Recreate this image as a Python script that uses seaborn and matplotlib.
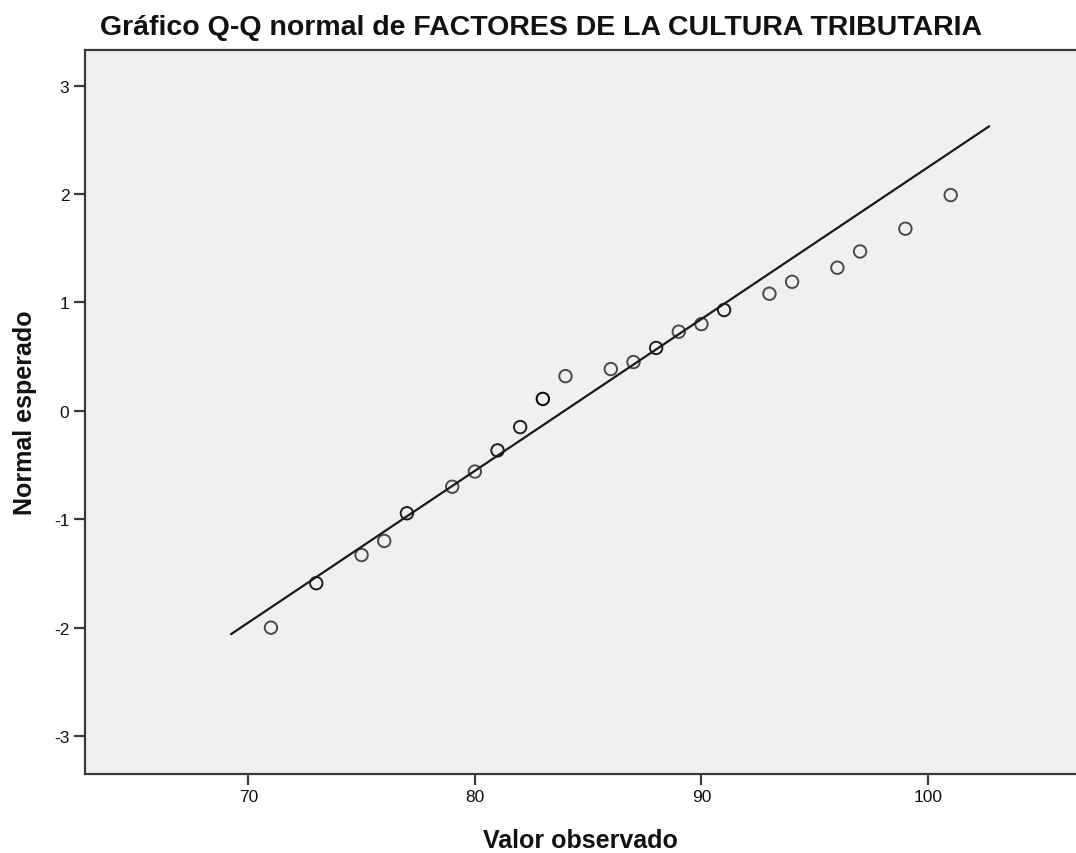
import matplotlib
matplotlib.use("Agg")
import matplotlib.pyplot as plt
import seaborn as sns
import pandas as pd

observed = [71, 73, 75, 76, 77, 79, 80, 81, 82, 83, 84, 86, 87, 88, 89, 90, 91,
            93, 94, 96, 97, 99, 101]
expected = [-2.00, -1.59, -1.33, -1.20, -0.945, -0.70, -0.56, -0.365, -0.15, 0.11,
            0.32, 0.385, 0.45, 0.58, 0.73, 0.80, 0.93, 1.08, 1.19, 1.32, 1.47,
            1.68, 1.99]
# number of cases sharing each value (tied points overplot darker)
counts = [1, 2, 1, 1, 2, 1, 1, 2, 2, 3, 1, 1, 1, 2, 1, 1, 2, 1, 1, 1, 1, 1, 1]

# Reference normal line endpoints
line_x = [69.24, 102.7]
line_y = [-2.06, 2.625]

x_ticks = [70, 80, 90, 100]
y_ticks = [-3, -2, -1, 0, 1, 2, 3]

title = "Gráfico Q-Q normal de FACTORES DE LA CULTURA TRIBUTARIA"
xlabel = "Valor observado"
ylabel = "Normal esperado"

df = pd.DataFrame({"obs": observed, "exp": expected, "n": counts})
line_df = pd.DataFrame({"x": line_x, "y": line_y})

sns.set_theme(style="white")
plt.rcParams["font.family"] = ["Liberation Sans", "DejaVu Sans"]

fig = plt.figure(figsize=(10.76, 8.54), dpi=100)
ax = fig.add_axes([0.0787, 0.0925, 0.9213, 0.848])
ax.set_facecolor("#f0f0f0")

sns.lineplot(data=line_df, x="x", y="y", ax=ax, color="#1a1a1a", linewidth=1.6,
             legend=False)
sns.scatterplot(data=df, x="obs", y="exp", hue="n", ax=ax,
                palette={1: "#4a4a4a", 2: "#1e1e1e", 3: "#000000"},
                s=80, linewidth=1.4, legend=False)
# make markers hollow with hue-colored edges
coll = ax.collections[-1]
coll.set_edgecolors(coll.get_facecolors())
coll.set_facecolors("none")

ax.set_xlim(62.78, 106.53)
ax.set_ylim(-3.35, 3.33)
ax.set_xticks(x_ticks)
ax.set_yticks(y_ticks)
ax.set_xticklabels([str(v) for v in x_ticks])
ax.set_yticklabels([str(v) for v in y_ticks])

for side in ["left", "bottom", "top"]:
    ax.spines[side].set_visible(True)
    ax.spines[side].set_color("#3a3a3a")
    ax.spines[side].set_linewidth(1.6)
ax.spines["right"].set_visible(False)

ax.tick_params(axis="both", which="major", direction="out", length=8, width=1.6,
               color="#3a3a3a", labelsize=12.5, labelcolor="#111111", pad=3,
               bottom=True, left=True)

ax.set_xlabel(xlabel, fontsize=18, fontweight="bold", labelpad=17, color="#111111")
ax.set_ylabel(ylabel, fontsize=18, fontweight="bold", labelpad=12, color="#111111")
fig.text(0.503, 0.967, title, ha="center", va="center", fontsize=20.5,
         fontweight="bold", color="#111111")

fig.savefig("out.png", dpi=100)
